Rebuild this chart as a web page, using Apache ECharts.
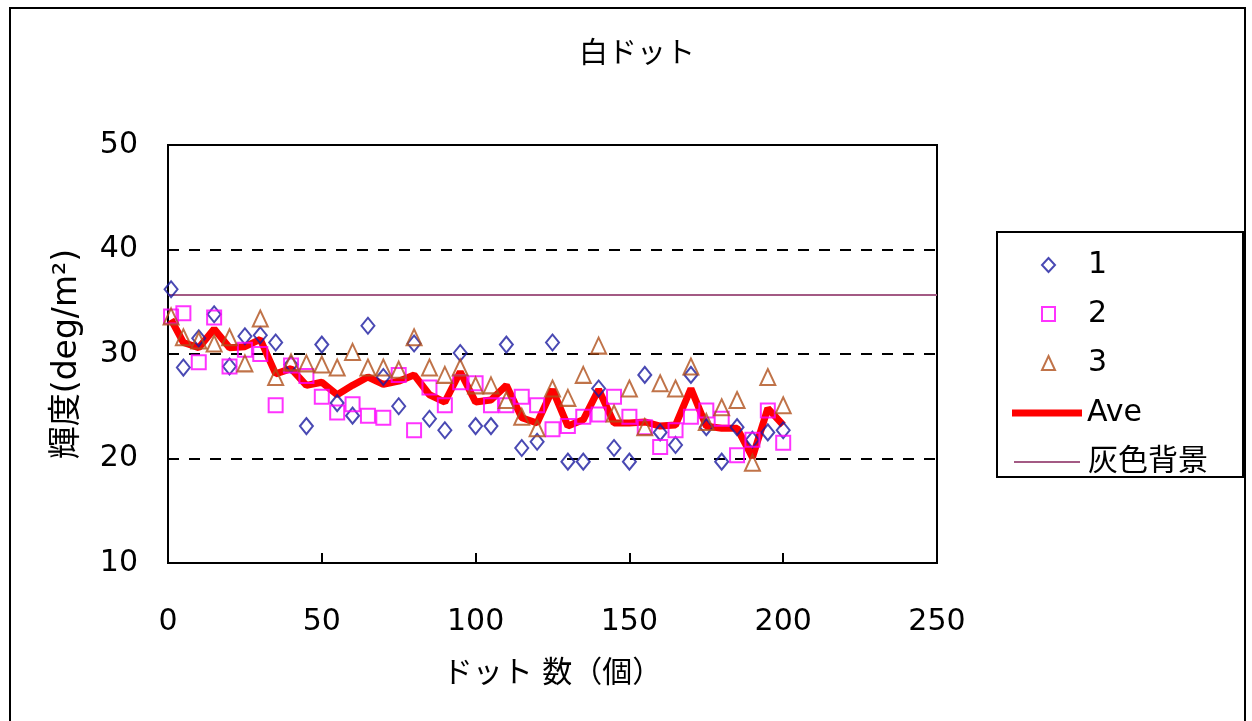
<!DOCTYPE html>
<html>
<head>
<meta charset="utf-8">
<script src="https://cdn.jsdelivr.net/npm/echarts@6/dist/echarts.min.js"></script>
<style>
  html, body { margin: 0; padding: 0; background: #fff; }
  #chart { width: 1252px; height: 721px; }
</style>
</head>
<body>
<div id="chart"></div>
<script>
// Dot counts along the x axis
const dotCounts = [1, 5, 10, 15, 20, 25, 30, 35, 40, 45, 50, 55, 60, 65, 70, 75, 80, 85, 90, 95, 100,
  105, 110, 115, 120, 125, 130, 135, 140, 145, 150, 155, 160, 165, 170, 175, 180, 185, 190, 195, 200];

// Luminance per trial
const trial1 = [36.2, 28.7, 31.5, 33.8, 28.8, 31.7, 31.8, 31.1, 29.0, 23.1, 30.9, 25.3, 24.1, 32.7, 27.8,
  25.0, 31.0, 23.8, 22.7, 30.1, 23.1, 23.1, 30.9, 21.0, 21.6, 31.1, 19.7, 19.7, 26.7, 21.0, 19.7,
  28.0, 22.5, 21.3, 28.0, 23.0, 19.7, 23.0, 21.8, 22.5, 22.7];
const trial2 = [33.6, 33.9, 29.2, 33.5, 28.8, 30.4, 30.0, 25.1, 28.9, 27.9, 25.9, 24.4, 25.2, 24.1, 23.9,
  28.0, 22.7, 26.8, 25.1, 27.3, 27.2, 25.1, 25.1, 25.9, 25.1, 22.8, 23.1, 24.0, 24.2, 25.9, 24.0,
  23.0, 21.1, 22.7, 24.0, 24.6, 23.8, 20.3, 21.8, 24.6, 21.5];
const trial3 = [33.6, 31.6, 31.3, 31.0, 31.6, 29.1, 33.4, 27.8, 29.2, 29.1, 29.0, 28.7, 30.2, 28.7, 28.7,
  28.5, 31.6, 28.7, 28.0, 28.7, 27.0, 27.0, 25.6, 24.0, 22.9, 26.7, 25.8, 28.0, 30.8, 24.3, 26.7,
  23.0, 27.2, 26.7, 28.8, 23.5, 24.9, 25.6, 19.6, 27.8, 25.1];
const average = [33.3, 31.1, 30.6, 32.4, 30.6, 30.7, 31.4, 28.1, 28.6, 27.0, 27.3, 26.1, 27.0, 27.8, 27.1,
  27.4, 28.0, 26.1, 25.4, 28.3, 25.4, 25.6, 27.0, 23.9, 23.4, 26.6, 23.1, 23.7, 26.6, 23.4, 23.4,
  23.5, 23.1, 23.2, 26.7, 23.1, 22.9, 22.9, 20.1, 24.8, 23.2];

// Gray background luminance, drawn across the full x range
const backgroundX = [0, 250];
const backgroundLevel = [35.65, 35.65];

const xTicks = [0, 50, 100, 150, 200, 250];
const yTicks = [10, 20, 30, 40, 50];

const pair = (xs, ys) => xs.map((x, i) => [x, ys[i]]);

const FONT = "'DejaVu Sans', 'Noto Sans CJK JP', sans-serif";

const chart = echarts.init(document.getElementById('chart'), null, { renderer: 'canvas' });

const hollow = (c) => ({ color: 'rgba(0,0,0,0)', borderColor: c, borderWidth: 2 });
const legendText = { fontFamily: FONT, fontSize: 30, lineHeight: 30, color: '#000' };

chart.setOption({
  backgroundColor: '#ffffff',
  animation: false,
  textStyle: { fontFamily: FONT, color: '#000' },
  title: {
    text: '白ドット',
    left: 632,
    textAlign: 'center',
    top: 36,
    textStyle: { fontFamily: FONT, fontSize: 29, fontWeight: 'normal', color: '#000' }
  },
  grid: {
    left: 168, top: 145, width: 769, height: 418,
    show: true, borderColor: '#000', borderWidth: 2, backgroundColor: '#fff'
  },
  legend: [
    {
      orient: 'vertical', left: 1036, top: 245,
      itemWidth: 13, itemHeight: 14, itemGap: 19,
      selectedMode: false,
      data: ['1', '2', '3'],
      textStyle: Object.assign({ padding: [0, 0, 0, 28] }, legendText)
    },
    {
      orient: 'vertical', left: 1007, top: 393,
      itemWidth: 70, itemHeight: 7,
      selectedMode: false,
      data: [{ name: 'Ave', icon: 'rect' }],
      textStyle: legendText
    },
    {
      orient: 'vertical', left: 1009, top: 442,
      itemWidth: 66, itemHeight: 2,
      selectedMode: false,
      data: [{ name: '灰色背景', icon: 'rect' }],
      textStyle: Object.assign({ padding: [0, 0, 0, 3] }, legendText)
    }
  ],
  graphic: [
    { type: 'rect', shape: { x: 10, y: 8, width: 1235, height: 730 },
      style: { fill: 'none', stroke: '#000', lineWidth: 2 }, silent: true, z: -10 },
    { type: 'rect', shape: { x: 997, y: 232, width: 246, height: 245 },
      style: { fill: '#fff', stroke: '#000', lineWidth: 2 }, silent: true, z: -1 }
  ],
  xAxis: {
    type: 'value', min: xTicks[0], max: xTicks[xTicks.length - 1], interval: 50,
    name: 'ドット 数（個）', nameLocation: 'middle', nameGap: 96,
    nameTextStyle: { fontFamily: FONT, fontSize: 30, color: '#000' },
    axisLine: { show: true, onZero: false, lineStyle: { color: '#000', width: 2 } },
    axisTick: { show: true, inside: true, length: 10, lineStyle: { color: '#000', width: 2 } },
    axisLabel: { margin: 44, fontFamily: FONT, fontSize: 30, color: '#000' },
    splitLine: { show: false }
  },
  yAxis: {
    type: 'value', min: yTicks[0], max: yTicks[yTicks.length - 1], interval: 10,
    name: '輝度(deg/m²)', nameLocation: 'middle', nameGap: 84,
    nameTextStyle: { fontFamily: FONT, fontSize: 33, color: '#000' },
    axisLine: { show: true, lineStyle: { color: '#000', width: 2 } },
    axisTick: { show: true, inside: true, length: 8, lineStyle: { color: '#000', width: 2 } },
    axisLabel: { margin: 30, fontFamily: FONT, fontSize: 30, color: '#000' },
    splitLine: { show: true, lineStyle: { color: '#000', width: 2, type: [11, 10] } }
  },
  series: [
    {
      name: '1', type: 'scatter', data: pair(dotCounts, trial1),
      symbol: 'diamond', symbolSize: [13, 16], itemStyle: hollow('#1c1ca0'), z: 5
    },
    {
      name: '2', type: 'scatter', data: pair(dotCounts, trial2),
      symbol: 'rect', symbolSize: [14, 14], itemStyle: hollow('#ff00ff'), z: 5
    },
    {
      name: '3', type: 'scatter', data: pair(dotCounts, trial3),
      symbol: 'triangle', symbolSize: [15, 16], itemStyle: hollow('#b0501c'), z: 5
    },
    {
      name: 'Ave', type: 'line', data: pair(dotCounts, average),
      symbol: 'none', lineStyle: { color: '#ff0000', width: 7 }, itemStyle: { color: '#ff0000' }, z: 3
    },
    {
      name: '灰色背景', type: 'line', data: pair(backgroundX, backgroundLevel),
      symbol: 'none', lineStyle: { color: '#a35a84', width: 2 }, itemStyle: { color: '#a35a84' }, z: 2
    }
  ]
});
</script>
</body>
</html>
